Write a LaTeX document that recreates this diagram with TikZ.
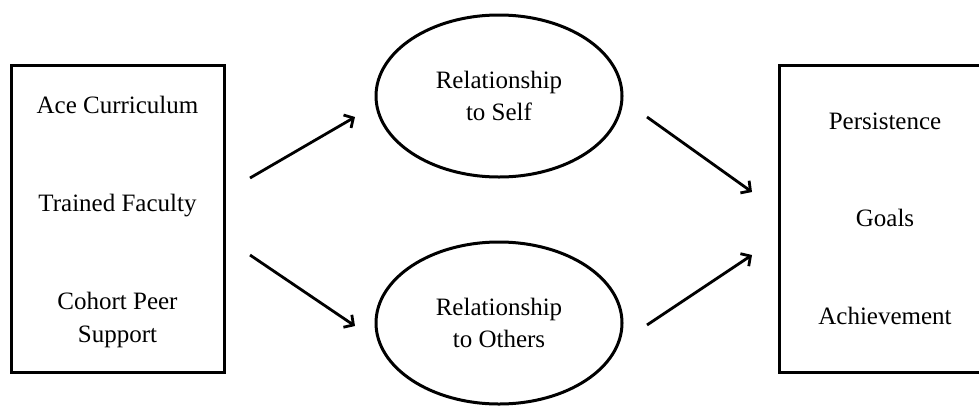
\documentclass[tikz,border=0pt]{standalone}
\usepackage{fontspec}
\setmainfont{Liberation Serif}
\usetikzlibrary{shapes.geometric,arrows.meta}

\tikzset{
  x=1pt, y=-1pt,
  frame/.style={draw, line width=3pt, rectangle, inner sep=0pt},
  oval/.style={draw, line width=3pt, ellipse, inner sep=0pt,
               minimum width=246pt, minimum height=162pt,
               align=center, font=\fontsize{25}{32}\selectfont},
  label/.style={font=\fontsize{25}{33}\selectfont, align=center, inner sep=0pt},
  link/.style={line width=2.8pt, -{Straight Barb[length=7pt,width=15pt,line width=2.8pt]}}
}

\begin{document}
\begin{tikzpicture}
  \useasboundingbox (0,0) rectangle (979,405);

  % input box
  \node[frame, minimum width=213pt, minimum height=307pt] (inputs) at (117.5,218.5) {};
  \node[label, anchor=base] (ace) at (117.5,113) {Ace Curriculum};
  \node[label, anchor=base] (faculty) at (117.5,211) {Trained Faculty};
  \node[label, anchor=base] (cohort) at (117.5,342) {Cohort Peer\\Support};

  % mediating constructs
  \node[oval] (self) at (499,96) {Relationship\\to Self};
  \node[oval] (others) at (499,323) {Relationship\\to Others};

  % outcome box, open on the right
  \node[frame, minimum width=220pt, minimum height=307pt] (outcomes) at (889,218.5) {};
  \node[label, anchor=base] (persist) at (885,129) {Persistence};
  \node[label, anchor=base] (goals) at (885,226) {Goals};
  \node[label, anchor=base] (achieve) at (885,324) {Achievement};

  % arrow end points
  \coordinate (ls1) at (250,178);
  \coordinate (le1) at (355,117);
  \coordinate (ls2) at (250,255);
  \coordinate (le2) at (355,326);
  \coordinate (rs1) at (647,117);
  \coordinate (re1) at (752,192);
  \coordinate (rs2) at (647,325);
  \coordinate (re2) at (752,255);

  \draw[link] (ls1) -- (le1);
  \draw[link] (ls2) -- (le2);
  \draw[link] (rs1) -- (re1);
  \draw[link] (rs2) -- (re2);
\end{tikzpicture}
\end{document}
